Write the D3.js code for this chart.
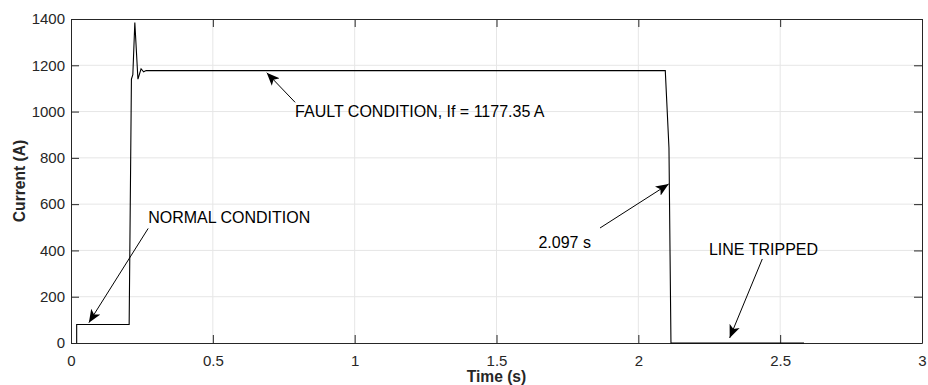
<!DOCTYPE html>
<html>
<head>
<meta charset="utf-8">
<script src="https://cdn.jsdelivr.net/npm/d3@7"></script>
<style>
  body { margin: 0; background: #fff; }
  svg text { font-family: "Liberation Sans", Arial, sans-serif; fill: #262626; }
</style>
</head>
<body>
<div id="chart"></div>
<script>
const margin = {top: 19, right: 6, bottom: 42, left: 71}
const width = 928 - margin.left - margin.right
const height = 385 - margin.top - margin.bottom

// current trace
const time_s = [0.02, 0.02, 0.205, 0.213, 0.218, 0.225, 0.236, 0.247, 0.256, 0.265, 2.095, 2.108, 2.115, 2.584]
const current_a = [0, 80, 80, 1140, 1160, 1385, 1140, 1185, 1172, 1177, 1177, 843, 0, 0]

const xTicks = [0, 0.5, 1, 1.5, 2, 2.5, 3]
const yTicks = [0, 200, 400, 600, 800, 1000, 1200, 1400]

// annotations: text position and arrow tail/head in data units
const notes = [
  {text: "FAULT CONDITION, If = 1177.35 A", tx: 0.79, ty: 978, ax: 0.79, ay: 1040, hx: 0.69, hy: 1168},
  {text: "NORMAL CONDITION", tx: 0.272, ty: 518, ax: 0.272, ay: 495, hx: 0.063, hy: 88},
  {text: "2.097 s", tx: 1.833, ty: 410, ax: 1.865, ay: 497, hx: 2.107, hy: 687, anchor: "end"},
  {text: "LINE TRIPPED", tx: 2.249, ty: 380, ax: 2.437, ay: 363, hx: 2.322, hy: 22}
]

var x = d3.scaleLinear().domain([0, 3]).range([0, width])
var y = d3.scaleLinear().domain([0, 1400]).range([height, 0])

var svg = d3.select("#chart")
  .append("svg")
  .attr("width", width + margin.left + margin.right)
  .attr("height", height + margin.top + margin.bottom)

svg.append("defs").append("marker")
  .attr("id", "head")
  .attr("viewBox", "0 0 12 10")
  .attr("refX", 12).attr("refY", 5)
  .attr("markerWidth", 13).attr("markerHeight", 11)
  .attr("markerUnits", "userSpaceOnUse")
  .attr("orient", "auto")
  .append("path")
  .attr("d", "M0,0 L12,5 L0,10 L3,5 Z")
  .attr("fill", "#000")

var g = svg.append("g")
  .attr("transform", "translate(" + margin.left + "," + margin.top + ")")

// grid
g.append("g")
  .selectAll("line")
  .data(xTicks.slice(1, -1))
  .join("line")
  .attr("x1", d => x(d)).attr("x2", d => x(d))
  .attr("y1", 0).attr("y2", height)
  .attr("stroke", "#e6e6e6")
g.append("g")
  .selectAll("line")
  .data(yTicks.slice(1, -1))
  .join("line")
  .attr("y1", d => y(d)).attr("y2", d => y(d))
  .attr("x1", 0).attr("x2", width)
  .attr("stroke", "#e6e6e6")

// axes, ticks pointing inwards like matlab
const tk = 8
g.append("g")
  .attr("transform", "translate(0," + height + ")")
  .call(d3.axisBottom(x).tickValues(xTicks).tickFormat(d3.format("")).tickSizeInner(-tk).tickSizeOuter(0).tickPadding(12))
g.append("g")
  .call(d3.axisTop(x).tickValues(xTicks).tickFormat("").tickSizeInner(-tk).tickSizeOuter(0))
g.append("g")
  .call(d3.axisLeft(y).tickValues(yTicks).tickFormat(d3.format("")).tickSizeInner(-tk).tickSizeOuter(0).tickPadding(6))
g.append("g")
  .attr("transform", "translate(" + width + ",0)")
  .call(d3.axisRight(y).tickValues(yTicks).tickFormat("").tickSizeInner(-tk).tickSizeOuter(0))

g.selectAll(".domain").attr("stroke", "#262626")
g.selectAll(".tick line").attr("stroke", "#262626")
g.selectAll(".tick text").style("font-size", "15px").style("fill", "#262626")

// trace
var pts = time_s.map((t, i) => ({t: t, c: current_a[i]}))
g.append("path")
  .datum(pts)
  .attr("fill", "none")
  .attr("stroke", "#000")
  .attr("stroke-width", 1.1)
  .attr("d", d3.line().x(d => x(d.t)).y(d => y(d.c)))

// annotations
notes.forEach(function(n) {
  g.append("line")
    .attr("x1", x(n.ax)).attr("y1", y(n.ay))
    .attr("x2", x(n.hx)).attr("y2", y(n.hy))
    .attr("stroke", "#000")
    .attr("stroke-width", 1)
    .attr("marker-end", "url(#head)")
  g.append("text")
    .attr("x", x(n.tx)).attr("y", y(n.ty))
    .attr("text-anchor", n.anchor || "start")
    .style("font-size", "16px")
    .style("fill", "#000")
    .text(n.text)
})

// axis titles
g.append("text")
  .attr("x", width / 2).attr("y", height + 39)
  .attr("text-anchor", "middle")
  .style("font-size", "15.6px").style("font-weight", "bold")
  .text("Time (s)")
g.append("text")
  .attr("transform", "translate(" + (-46) + "," + (height / 2) + ") rotate(-90)")
  .attr("text-anchor", "middle")
  .style("font-size", "15.6px").style("font-weight", "bold")
  .text("Current (A)")
</script>
</body>
</html>
